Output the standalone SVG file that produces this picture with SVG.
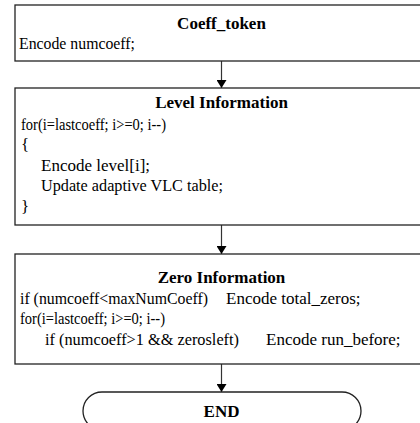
<svg xmlns="http://www.w3.org/2000/svg" width="420" height="423" viewBox="0 0 420 423">
<defs>
<style>
.box{fill:#fff;stroke:#222;stroke-width:1.3}
.t{font-family:"Liberation Serif","Times New Roman",serif;font-size:17px;fill:#000}
.b{font-weight:bold;text-anchor:middle;font-size:17px}
.c{stroke:#333;stroke-width:1.2;fill:none}
</style>
<marker id="ah" viewBox="0 0 8 10" refX="8" refY="5" markerWidth="8" markerHeight="10" markerUnits="userSpaceOnUse" orient="auto">
<path d="M0,0 L8,5 L0,10 Z" fill="#000"/>
</marker>
</defs>
<g id="connectors">
<line class="c" x1="221.5" y1="61" x2="221.5" y2="88" marker-end="url(#ah)"/>
<line class="c" x1="221.5" y1="225" x2="221.5" y2="254" marker-end="url(#ah)"/>
<line class="c" x1="221.5" y1="364" x2="221.5" y2="392" marker-end="url(#ah)"/>
</g>
<g id="coeff_token">
<rect class="box" x="15" y="5" width="420" height="56"/>
<text class="t b" x="221.5" y="29">Coeff_token</text>
<text class="t" x="19" y="49" textLength="116" lengthAdjust="spacingAndGlyphs">Encode numcoeff;</text>
</g>
<g id="level_information">
<rect class="box" x="15" y="88" width="420" height="137"/>
<text class="t b" x="221.5" y="108">Level Information</text>
<text class="t" x="21" y="130" textLength="145" lengthAdjust="spacingAndGlyphs">for(i=lastcoeff; i&gt;=0; i--)</text>
<text class="t" x="21" y="150">{</text>
<text class="t" x="41" y="171">Encode level[i];</text>
<text class="t" x="41" y="191" textLength="182" lengthAdjust="spacingAndGlyphs">Update adaptive VLC table;</text>
<text class="t" x="21" y="212">}</text>
</g>
<g id="zero_information">
<rect class="box" x="15" y="254" width="420" height="110"/>
<text class="t b" x="221.5" y="283">Zero Information</text>
<text class="t" x="20" y="304" textLength="188" lengthAdjust="spacingAndGlyphs">if (numcoeff&lt;maxNumCoeff)</text>
<text class="t" x="226" y="304">Encode total_zeros;</text>
<text class="t" x="20" y="324" textLength="145" lengthAdjust="spacingAndGlyphs">for(i=lastcoeff; i&gt;=0; i--)</text>
<text class="t" x="45" y="345" textLength="194" lengthAdjust="spacingAndGlyphs">if (numcoeff&gt;1 &amp;&amp; zerosleft)</text>
<text class="t" x="266" y="345">Encode run_before;</text>
</g>
<g id="end">
<rect class="box" x="83" y="392" width="278" height="38" rx="19" ry="19"/>
<text class="t b" x="221.5" y="417">END</text>
</g>
</svg>
